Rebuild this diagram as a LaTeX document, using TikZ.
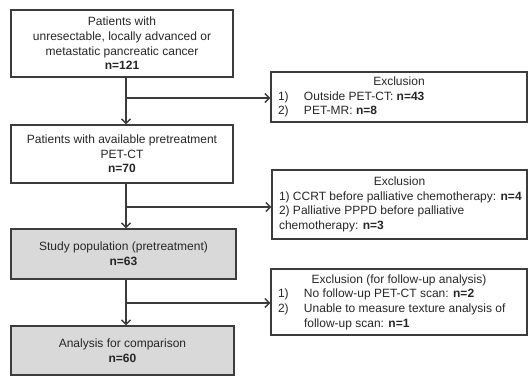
\documentclass[tikz,border=0pt]{standalone}
\usepackage{fontspec}
\setmainfont{Liberation Sans}
\usetikzlibrary{arrows.meta}
\definecolor{edge}{HTML}{3C3C3C}
\definecolor{ink}{HTML}{262626}
\definecolor{boxgray}{HTML}{D9D9D9}
\newcommand{\exnum}[1]{\makebox[26bp][l]{#1}}
\begin{document}
\begin{tikzpicture}[x=1bp,y=-1bp,
  every node/.style={text=ink,font=\fontsize{12bp}{14.6bp}\selectfont},
  mainbox/.style={draw=edge,line width=1.4bp,inner sep=0pt,align=center},
  exbox/.style={draw=edge,line width=1.4bp,inner sep=0pt,minimum width=256bp},
  conn/.style={draw=edge,line width=1.3bp},
  arr/.style={conn,-{Straight Barb[length=4.5bp,width=9bp,line width=1.3bp]}}]
\useasboundingbox (0,0) rectangle (528,377);
\node[mainbox,minimum width=222bp,minimum height=67bp] (b1) at (122,43.5)
  {Patients with\\unresectable, locally advanced or\\metastatic pancreatic cancer\\\textbf{n=121}};
\node[mainbox,minimum width=222bp,minimum height=58bp] (b2) at (122,154)
  {Patients with available pretreatment\\PET-CT\\\textbf{n=70}};
\node[mainbox,fill=boxgray,minimum width=225bp,minimum height=50bp] (b3) at (123.5,254)
  {Study population (pretreatment)\\\textbf{n=63}};
\node[mainbox,fill=boxgray,minimum width=223bp,minimum height=49bp] (b4) at (122.5,350.5)
  {Analysis for comparison\\\textbf{n=60}};
\node[exbox,minimum height=50bp] (e1) at (399,97)
  {\parbox{242bp}{\centering Exclusion\par\raggedright
   \mbox{\exnum{1)}Outside PET-CT: \textbf{n=43}}\par
   \mbox{\exnum{2)}PET-MR: \textbf{n=8}}\par}};
\node[exbox,minimum width=255bp,minimum height=69bp] (e2) at (399.5,204.5)
  {\parbox{241bp}{\centering Exclusion\par\raggedright
   \mbox{1) CCRT before palliative chemotherapy: \textbf{n=4}}\par
   \mbox{2) Palliative PPPD before palliative}\par
   \mbox{chemotherapy: \textbf{n=3}}\par}};
\node[exbox,minimum height=66bp] (e3) at (399,302)
  {\parbox{242bp}{\centering Exclusion (for follow-up analysis)\par\raggedright
   \mbox{\exnum{1)}No follow-up PET-CT scan: \textbf{n=2}}\par
   \mbox{\exnum{2)}Unable to measure texture analysis of}\par
   \mbox{\hspace*{26bp}follow-up scan: \textbf{n=1}}\par}};
\coordinate (j1) at (126,98);
\coordinate (j2) at (126,207);
\coordinate (j3) at (126,303);
\draw[arr] (j1 |- b1.south) -- (j1 |- b2.north);
\draw[arr] (j1) -- (j1 -| e1.west);
\draw[arr] (j2 |- b2.south) -- (j2 |- b3.north);
\draw[arr] (j2) -- (j2 -| e2.west);
\draw[arr] (j3 |- b3.south) -- (j3 |- b4.north);
\draw[arr] (j3) -- (j3 -| e3.west);
\end{tikzpicture}
\end{document}
